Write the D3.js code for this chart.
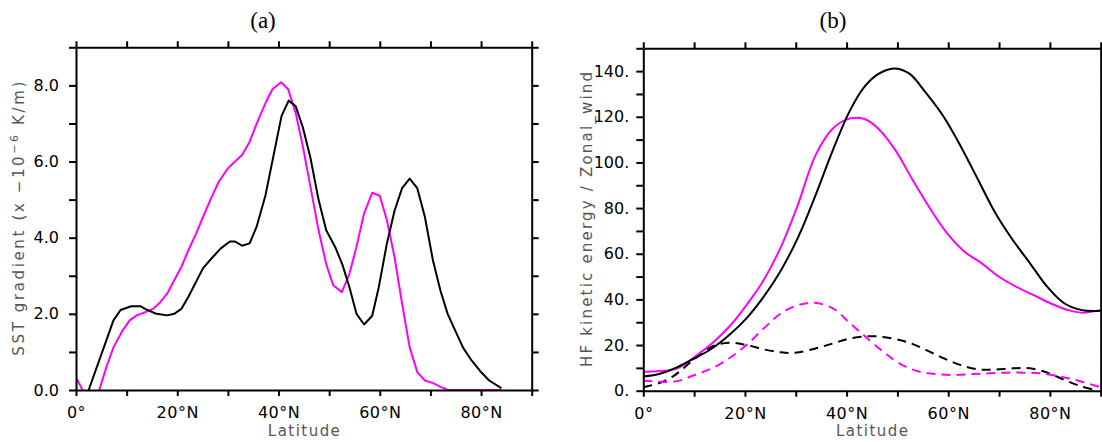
<!DOCTYPE html>
<html>
<head>
<meta charset="utf-8">
<script src="https://cdn.jsdelivr.net/npm/d3@7"></script>
<style>
  html, body { margin: 0; padding: 0; background: #fff; }
  svg { display: block; }
</style>
</head>
<body>
<svg id="chart" width="1102" height="442"></svg>
<script>
// ---------------- DATA ----------------
// Panel (a): SST gradient, [latitude, value]
const sstBlack = [
  [2.5,0],[7.4,1.83],[8.8,2.1],[10.9,2.2],[12.7,2.2],[14.1,2.1],[15.9,2.0],[18.0,1.96],
  [19.4,2.0],[20.8,2.13],[22.2,2.45],[25.1,3.2],[26.8,3.46],[28.6,3.72],[30.4,3.9],
  [31.4,3.9],[32.8,3.79],[34.3,3.85],[35.7,4.3],[37.4,5.1],[40.6,7.2],[42.0,7.6],
  [43.4,7.45],[44.8,6.9],[46.3,6.1],[47.9,5.0],[49.4,4.2],[51.2,3.75],[52.6,3.3],
  [54.0,2.7],[55.4,2.0],[56.9,1.72],[58.5,1.95],[59.8,2.7],[61.4,3.85],[62.9,4.7],
  [64.4,5.3],[65.9,5.55],[67.4,5.3],[68.9,4.55],[70.5,3.4],[72.0,2.6],[73.4,2.0],
  [75.1,1.5],[76.5,1.1],[78.0,0.8],[79.8,0.5],[81.6,0.25],[84.0,0.05]
];
const sstMagenta = [
  [0,0.33],[1.3,0],[2.9,null],[4.6,0],[6.0,0.6],[7.4,1.12],[9.2,1.56],[10.6,1.83],[12.0,1.96],
  [13.8,2.05],[15.2,2.13],[16.6,2.3],[18.0,2.53],[19.4,2.88],[20.8,3.23],[22.2,3.67],
  [23.7,4.1],[25.1,4.55],[26.8,5.07],[28.2,5.47],[30.0,5.82],[31.4,6.0],[32.8,6.17],
  [34.3,6.52],[35.7,7.0],[37.4,7.53],[38.8,7.9],[40.5,8.08],[41.9,7.9],[43.4,7.27],
  [44.8,6.4],[46.3,5.34],[47.9,4.2],[49.4,3.32],[50.8,2.75],[52.5,2.57],[54.0,3.05],
  [55.4,3.76],[56.9,4.64],[58.5,5.18],[60.0,5.1],[61.4,4.46],[62.9,3.5],[64.3,2.35],
  [65.9,1.12],[67.4,0.47],[68.9,0.25],[70.5,0.18],[71.9,0.09],[73.4,0],[84.0,0]
];

// Panel (b): HF kinetic energy (dashed) / Zonal wind (solid)
const windBlack = [
  [0,6.2],[3.3,7.4],[6.7,10.3],[10.1,14.2],[13.5,18.5],[16.9,24.4],[20.3,31.7],[23.7,41.2],
  [27.1,52.8],[30.5,67.4],[33.9,85.7],[37.3,105.4],[40.7,122.9],[43.5,133.1],[46.2,138.7],
  [49.3,141.2],[52.3,139.0],[55.7,130.2],[59.1,120.0],[62.5,106.9],[65.9,92.3],[69.3,77.7],
  [72.7,66.0],[76.1,55.8],[79.5,45.5],[82.9,38.2],[86.3,35.3],[90,35.0]
];
const windMagenta = [
  [0,8.3],[3.3,8.6],[6.7,9.8],[10.1,14.9],[13.5,20.7],[16.9,28.0],[20.3,37.5],[23.7,48.5],
  [27.1,63.1],[30.5,82.0],[33.9,103.2],[37.3,114.9],[40.7,119.3],[43.5,119.0],[46.2,114.9],
  [49.6,105.4],[53.0,92.3],[56.4,79.9],[59.8,68.9],[63.2,60.9],[66.6,55.8],[70.0,49.9],
  [73.4,45.5],[76.8,41.9],[80.2,38.2],[83.6,35.3],[86.3,34.2],[90,35.3]
];
const keMagenta = [
  [0,4.5],[3.3,3.9],[6.7,4.2],[10.1,6.9],[13.5,9.8],[16.9,14.2],[20.3,20.0],[23.7,27.3],
  [27.1,33.9],[30.5,37.5],[33.6,38.5],[37.3,36.1],[40.7,29.5],[44.1,22.9],[47.6,16.4],
  [51.0,11.2],[54.4,8.3],[57.8,7.2],[61.2,6.9],[64.6,7.3],[68.0,7.6],[71.4,7.9],[74.8,7.9],
  [78.2,7.6],[81.6,6.4],[85.0,4.7],[90,1.5]
];
const keBlack = [
  [0,1.5],[3.3,3.5],[6.0,6.5],[8.0,10.0],[10.1,14.0],[13.5,19.3],[16.9,21.0],[20.3,20.0],
  [23.7,18.1],[27.1,16.8],[29.9,16.6],[33.9,18.5],[37.3,20.7],[40.7,22.9],[44.8,23.9],
  [48.9,22.9],[52.3,21.0],[55.7,17.8],[59.1,14.2],[62.5,11.2],[65.9,9.3],[69.3,9.3],
  [72.7,9.8],[76.1,9.8],[79.5,7.9],[82.9,4.7],[86.3,1.8],[89.0,0.3]
];

// Tick values / labels
const latTicks = [0,10,20,30,40,50,60,70,80,90];
const latLabelTicks = [0,20,40,60,80];
const sstTicks = [0,1,2,3,4,5,6,7,8,9];
const sstLabelTicks = [0,2,4,6,8];
const keTicks = [0,10,20,30,40,50,60,70,80,90,100,110,120,130,140,150];
const keLabelTicks = [0,20,40,60,80,100,120,140];
const titles = ["(a)", "(b)"];
const xTitle = "Latitude";

// ---------------- DRAW ----------------
const svg = d3.select("#chart");
const MAG = "#ff00ff";
const TICKFONT = "'DejaVu Sans', sans-serif";
const GRAY = "#555";

function latFmt(d) { return latLabelTicks.includes(d) ? (d === 0 ? "0°" : d + "°N") : ""; }

function panel(cfg) {
  const g = svg.append("g");
  const x = d3.scaleLinear().domain([0, 90]).range([cfg.x0, cfg.x1]);
  const y = d3.scaleLinear().domain(cfg.yDomain).range([cfg.y0, cfg.y1]);

  const clipId = "clip" + cfg.id;
  svg.append("defs").append("clipPath").attr("id", clipId)
    .append("rect").attr("x", cfg.x0).attr("y", cfg.y1)
    .attr("width", cfg.x1 - cfg.x0).attr("height", cfg.y0 - cfg.y1);

  // curves
  const line = d3.line().defined(d => d[1] !== null).x(d => x(d[0])).y(d => y(d[1]));
  const curveLine = d3.line().x(d => x(d[0])).y(d => y(d[1])).curve(d3.curveCatmullRom.alpha(0.5));
  const lg = g.append("g").attr("clip-path", `url(#${clipId})`);
  cfg.series.forEach(s => {
    lg.append("path").datum(s.data)
      .attr("fill", "none")
      .attr("stroke", s.color)
      .attr("stroke-width", 2)
      .attr("stroke-linejoin", "round")
      .attr("stroke-dasharray", s.dash || null)
      .attr("d", cfg.smooth ? curveLine : line);
  });

  // axes
  const bottom = d3.axisBottom(x).tickValues(latTicks).tickSize(6).tickSizeOuter(0).tickPadding(11).tickFormat(latFmt);
  const top = d3.axisTop(x).tickValues(latTicks).tickSize(6).tickSizeOuter(0).tickFormat("");
  const left = d3.axisLeft(y).tickValues(cfg.yTicks).tickSize(7).tickSizeOuter(0).tickPadding(cfg.yPad).tickFormat(cfg.yFmt);
  const right = d3.axisRight(y).tickValues(cfg.yTicks).tickSize(7).tickSizeOuter(0).tickFormat("");

  const axes = [
    g.append("g").attr("transform", `translate(0,${cfg.y0})`).call(bottom),
    g.append("g").attr("transform", `translate(0,${cfg.y1})`).call(top),
    g.append("g").attr("transform", `translate(${cfg.x0},0)`).call(left),
    g.append("g").attr("transform", `translate(${cfg.x1},0)`).call(right)
  ];
  axes.forEach(a => {
    a.selectAll("path.domain").attr("stroke", "#000").attr("stroke-width", 2);
    a.selectAll(".tick line").attr("stroke", "#000").attr("stroke-width", 2);
    a.selectAll("text").attr("font-family", TICKFONT).attr("font-size", 16).attr("fill", "#000");
  });
  axes[0].selectAll("text").attr("letter-spacing", 0.5);

  // title
  g.append("text").attr("x", cfg.titleX).attr("y", 28)
    .attr("text-anchor", "middle")
    .attr("font-family", "'Liberation Serif', 'Times New Roman', serif")
    .attr("font-size", 23).text(cfg.title);

  // x title
  g.append("text").attr("x", (cfg.x0 + cfg.x1) / 2).attr("y", 436)
    .attr("text-anchor", "middle")
    .attr("font-family", TICKFONT).attr("font-size", 15).attr("fill", GRAY)
    .attr("textLength", 72).attr("lengthAdjust", "spacing")
    .text(xTitle);

  // y title
  const yc = (cfg.y0 + cfg.y1) / 2;
  const yt = g.append("text")
    .attr("transform", `translate(${cfg.yTitleX},${yc}) rotate(-90)`)
    .attr("text-anchor", "middle")
    .attr("font-family", TICKFONT).attr("font-size", 15).attr("fill", GRAY)
    .attr("textLength", cfg.yTitleLen).attr("lengthAdjust", "spacing");
  cfg.yTitle(yt);
}

panel({
  id: "a", x0: 76, x1: 531.7, y0: 390, y1: 47.3,
  yDomain: [0, 9], yTicks: sstTicks, yPad: 10,
  yFmt: d => sstLabelTicks.includes(d) ? d3.format(".1f")(d) : "",
  title: titles[0], titleX: 263, yTitleX: 23.5, yTitleLen: 274,
  smooth: false,
  series: [
    { data: sstMagenta, color: MAG },
    { data: sstBlack, color: "#000" }
  ],
  yTitle: t => {
    t.append("tspan").text("SST gradient (x \u221210");
    t.append("tspan").attr("dy", -6).attr("font-size", 11).text("\u22126");
    t.append("tspan").attr("dy", 6).text(" K/m)");
  }
});

panel({
  id: "b", x0: 643.3, x1: 1100.7, y0: 390.7, y1: 48.3,
  yDomain: [0, 150], yTicks: keTicks, yPad: 7,
  yFmt: d => keLabelTicks.includes(d) ? d + "." : "",
  title: titles[1], titleX: 833, yTitleX: 592, yTitleLen: 295,
  smooth: true,
  series: [
    { data: keBlack, color: "#000", dash: "9,6" },
    { data: keMagenta, color: MAG, dash: "9,6" },
    { data: windMagenta, color: MAG },
    { data: windBlack, color: "#000" }
  ],
  yTitle: t => { t.text("HF kinetic energy / Zonal_wind"); }
});
</script>
</body>
</html>
